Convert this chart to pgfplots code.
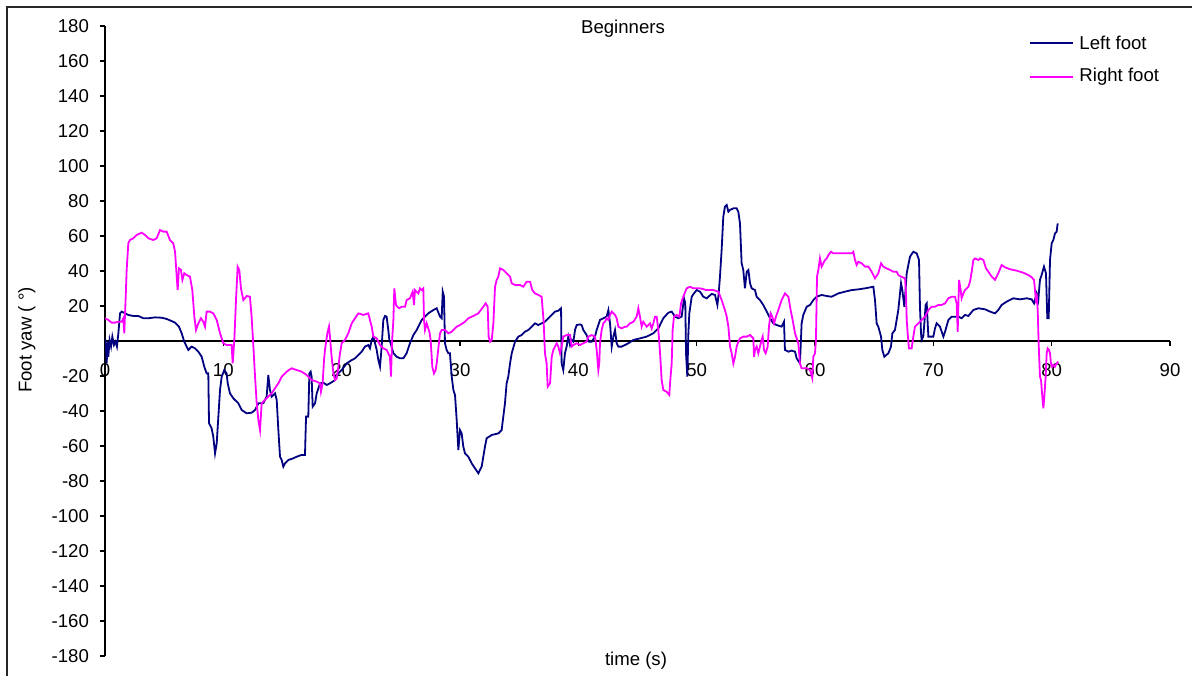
\documentclass[border=0pt]{standalone}
\usepackage{pgfplots}
\pgfplotsset{compat=1.18}
\usepackage{fontspec}
\setmainfont{Liberation Sans}
\definecolor{leftc}{RGB}{0,0,128}
\definecolor{rightc}{RGB}{255,0,255}
\begin{document}
\begin{tikzpicture}[x=1pt,y=1pt]
\useasboundingbox (0,0) rectangle (596,337.5);
\draw[line width=0.9pt, black!85] (3.5,-10) -- (3.5,334) -- (620,334);
\begin{axis}[
  at={(52.5pt,9.5pt)}, anchor=south west,
  scale only axis, width=532.5pt, height=315pt,
  xmin=0, xmax=90, ymin=-180, ymax=180,
  xtick={10,20,...,90}, ytick={-180,-160,...,180},
  extra x ticks={0},
  extra x tick style={tick style={draw=none}},
  axis lines=middle,
  axis line style={-, line width=0.8pt, black},
  tick align=outside, major tick length=2.5pt,
  tick style={black, line width=0.8pt},
  font=\fontsize{9.3pt}{11pt}\selectfont,
  /pgf/number format/assume math mode=true,
  xticklabel style={yshift=-5pt},
  yticklabel style={xshift=-2pt},
  every axis title shift=0pt,
  title={Beginners},
  title style={at={(rel axis cs:0.4864,0.9884)}, anchor=base},
  xlabel={time (s)},
  xlabel style={at={(rel axis cs:0.4986,-0.0143)}, anchor=base},
  ylabel={Foot yaw ( °)},
  ylabel style={at={(rel axis cs:-0.0688,0.5016)}, anchor=base, rotate=90},
]
\addplot[draw=leftc, line width=0.9pt] coordinates {
(0.00,1.5)(0.08,-3.2)(0.14,-12.8)(0.23,-0.4)(0.28,-9)(0.39,0.6)(0.51,-3.2)(0.62,2.5)(0.76,-2.3)(0.90,-0.4)
(1.01,-3.2)(1.13,4.4)(1.27,15.8)(1.41,16.8)(1.69,15.8)(1.97,14.9)(2.39,14.3)(2.82,14.3)(3.24,13.0)(3.66,13.0)
(4.23,13.5)(4.79,13.3)(5.21,12.6)(5.63,11.4)(5.92,10.5)(6.25,8.2)(6.48,4.4)(6.70,-0.4)(6.90,-3.2)(7.04,-5.1)
(7.32,-3.2)(7.61,-4.2)(7.89,-6.1)(8.17,-9.0)(8.39,-14.7)(8.59,-18.5)(8.73,-18.5)(8.79,-47.0)(9.01,-49.9)(9.15,-54.7)
(9.30,-64.2)(9.44,-58.5)(9.58,-43.2)(9.72,-28.0)(9.86,-20.4)(10.08,-16.6)(10.28,-18.5)(10.37,-24.2)(10.56,-29.9)(10.85,-32.8)
(11.27,-35.6)(11.55,-39.4)(11.97,-41.3)(12.39,-41.0)(12.68,-39.4)(12.96,-35.6)(13.38,-35.6)(13.66,-31.8)(13.80,-19.4)(13.94,-28.0)
(14.08,-31.8)(14.37,-29.9)(14.51,-33.7)(14.65,-50.9)(14.79,-66.1)(14.93,-68.0)(15.07,-71.8)(15.21,-69.9)(15.49,-68.0)(15.92,-67.0)
(16.20,-66.1)(16.62,-65.1)(16.90,-65.1)(16.99,-43.2)(17.18,-43.2)(17.27,-18.5)(17.38,-17.5)(17.46,-20.4)(17.55,-37.5)(17.75,-35.6)
(17.89,-29.9)(18.17,-24.2)(18.45,-23.8)(18.73,-25.1)(19.01,-24.2)(19.44,-22.3)(19.58,-19.4)(20.00,-16.6)(20.42,-12.8)(20.85,-10.9)
(21.13,-9.9)(21.41,-8.0)(21.69,-6.1)(21.97,-3.2)(22.25,-2.3)(22.39,-4.2)(22.54,0.6)(22.68,2.5)(22.82,-1.3)(22.96,-5.1)
(23.10,-10.9)(23.24,-14.7)(23.38,-3.2)(23.52,12.0)(23.66,14.3)(23.80,13.9)(23.94,6.3)(24.03,0.6)(24.14,-1.3)(24.37,-7.0)
(24.65,-9.0)(24.93,-9.9)(25.21,-9.9)(25.49,-7.0)(25.77,-1.3)(26.06,3.4)(26.34,6.3)(26.62,10.1)(26.76,12.0)(27.04,13.9)
(27.32,15.8)(27.75,17.7)(28.03,18.7)(28.31,13.9)(28.45,13.0)(28.54,28.2)(28.65,25.3)(28.73,-1.3)(28.87,-5.1)(29.01,-7.0)
(29.15,-7.0)(29.30,-20.4)(29.44,-28.0)(29.58,-30.9)(29.72,-45.1)(29.86,-62.3)(30.00,-50.9)(30.14,-52.8)(30.28,-60.4)(30.42,-64.2)
(30.70,-66.1)(30.99,-69.9)(31.27,-72.8)(31.55,-75.6)(31.83,-71.8)(31.97,-66.1)(32.11,-60.4)(32.25,-55.6)(32.68,-53.7)(33.24,-52.8)
(33.52,-50.9)(33.66,-43.2)(33.80,-35.6)(33.94,-24.2)(34.08,-20.4)(34.23,-12.8)(34.37,-7.0)(34.65,-0.4)(34.93,2.5)(35.21,3.4)
(35.49,5.3)(35.77,6.3)(36.06,8.2)(36.34,10.1)(36.62,9.1)(36.90,10.1)(37.18,11.0)(37.46,13.0)(37.75,14.9)(38.03,16.8)
(38.31,17.3)(38.54,18.7)(38.59,-12.8)(38.73,-16.6)(38.87,-7.0)(39.01,-3.2)(39.15,2.5)(39.30,-2.3)(39.44,0.6)(39.58,-0.4)
(39.72,6.3)(39.86,9.1)(40.14,9.5)(40.28,9.1)(40.42,6.3)(40.70,3.4)(40.90,-0.4)(41.13,-0.4)(41.41,2.5)(41.55,6.3)
(41.83,12.0)(42.11,13.0)(42.39,13.9)(42.54,17.7)(42.68,10.1)(42.82,-3.2)(42.96,2.5)(43.10,6.3)(43.24,-1.3)(43.38,-3.2)
(43.66,-3.2)(43.94,-2.3)(44.23,-1.3)(44.65,0.6)(45.21,1.5)(45.77,2.5)(46.34,4.4)(46.76,7.2)(47.18,13.0)(47.61,16.2)
(47.89,16.8)(48.17,13.9)(48.45,13.0)(48.73,13.9)(48.93,24.4)(49.04,21.5)(49.10,-7.0)(49.21,-20.4)(49.30,4.4)(49.38,15.8)
(49.58,25.3)(49.77,27.2)(50.00,29.1)(50.28,28.2)(50.56,25.3)(50.85,24.4)(50.99,25.3)(51.27,26.9)(51.55,26.3)(51.75,20.6)
(51.86,27.2)(51.97,36.8)(52.11,52.0)(52.25,71.0)(52.39,76.8)(52.54,77.7)(52.68,73.9)(52.82,74.9)(53.10,75.8)(53.38,75.8)
(53.52,73.9)(53.66,67.2)(53.80,44.4)(53.94,40.6)(54.08,30.1)(54.23,39.6)(54.37,40.6)(54.51,33.0)(54.65,30.1)(54.93,29.1)
(55.07,25.3)(55.35,23.4)(55.63,20.6)(55.92,16.8)(56.20,13.0)(56.48,10.1)(56.76,9.1)(57.18,8.2)(57.38,11.0)(57.46,-5.1)
(57.75,-6.1)(58.03,-5.5)(58.31,-6.1)(58.45,-9.9)(58.73,-12.8)(58.87,10.1)(59.01,14.9)(59.30,19.6)(59.58,20.6)(59.86,23.4)
(60.14,25.3)(60.56,26.3)(60.99,25.7)(61.41,25.3)(61.97,27.2)(62.54,28.2)(63.10,29.1)(63.66,29.5)(64.23,30.1)(64.93,31.0)
(65.07,23.4)(65.21,10.1)(65.35,8.2)(65.58,2.5)(65.69,-5.1)(65.86,-9.0)(66.20,-7.0)(66.42,-3.2)(66.54,4.4)(66.76,6.3)
(67.04,17.7)(67.27,33.0)(67.38,29.1)(67.55,19.6)(67.75,38.7)(68.03,48.2)(68.31,51.0)(68.59,50.1)(68.79,46.3)(68.87,19.6)
(68.96,4.4)(69.01,0.6)(69.15,2.5)(69.24,10.1)(69.35,20.6)(69.44,21.5)(69.58,2.5)(70.00,2.5)(70.14,7.2)(70.28,10.1)
(70.56,8.2)(70.85,2.5)(70.99,5.3)(71.27,12.0)(71.55,13.9)(72.11,13.9)(72.39,13.0)(72.68,14.9)(72.96,14.3)(73.38,17.7)
(73.80,18.7)(74.37,18.1)(74.79,16.8)(75.21,15.8)(75.49,17.7)(75.77,20.6)(76.20,22.5)(76.76,24.4)(77.32,23.8)(77.89,24.4)
(78.31,23.8)(78.51,21.5)(78.73,27.2)(78.87,23.4)(79.01,34.9)(79.15,37.7)(79.35,42.5)(79.52,38.7)(79.63,13.0)(79.75,13.0)
(79.86,46.3)(80.00,55.8)(80.14,57.7)(80.28,61.5)(80.42,62.5)(80.51,67.2)
};
\addplot[draw=rightc, line width=0.9pt] coordinates {
(0.00,13.0)(0.28,12.0)(0.56,10.5)(0.85,10.5)(1.13,11.0)(1.41,11.0)(1.55,13.0)(1.63,4.4)(1.75,25.3)(1.83,40.6)
(1.97,55.8)(2.11,57.7)(2.39,58.7)(2.68,60.6)(3.10,61.9)(3.38,60.6)(3.66,58.7)(4.08,57.7)(4.37,58.7)(4.65,63.4)
(4.93,62.5)(5.21,62.5)(5.49,57.7)(5.77,55.8)(5.92,51.0)(6.06,36.8)(6.14,29.1)(6.25,41.5)(6.42,40.6)(6.54,34.9)
(6.70,38.7)(6.90,37.7)(7.18,36.8)(7.38,29.1)(7.55,13.9)(7.69,6.3)(7.89,10.1)(8.11,13.0)(8.31,11.0)(8.45,8.2)
(8.59,16.8)(8.87,16.8)(9.15,15.8)(9.44,12.0)(9.72,4.4)(10.00,-1.3)(10.28,-2.3)(10.70,-2.3)(10.79,-12.8)(10.93,0.6)
(11.07,23.4)(11.21,42.5)(11.35,40.6)(11.49,30.1)(11.69,23.4)(11.97,25.7)(12.25,25.3)(12.39,13.9)(12.54,-3.2)(12.68,-20.4)
(12.82,-35.6)(12.96,-45.1)(13.10,-50.9)(13.24,-35.6)(13.52,-33.7)(13.80,-31.8)(14.08,-29.9)(14.37,-27.0)(14.65,-24.2)(14.93,-20.4)
(15.35,-17.5)(15.77,-15.6)(16.20,-16.6)(16.62,-17.5)(17.04,-19.4)(17.46,-22.3)(17.89,-23.2)(18.17,-24.2)(18.25,-29.0)(18.39,-24.2)
(18.51,-10.9)(18.59,-5.1)(18.79,4.4)(18.93,8.2)(19.01,2.5)(19.15,-9.0)(19.30,-18.5)(19.44,-22.3)(19.58,-21.3)(19.72,-14.7)
(19.86,-7.0)(20.00,-1.3)(20.28,0.6)(20.56,4.4)(20.85,10.1)(21.13,13.0)(21.41,15.8)(21.83,14.9)(22.25,15.8)(22.39,12.0)
(22.54,8.2)(22.68,2.5)(22.96,1.5)(23.24,-2.3)(23.52,-4.2)(23.80,-5.1)(24.08,-9.0)(24.17,-20.4)(24.25,-1.3)(24.37,12.0)
(24.45,30.1)(24.59,20.6)(24.70,19.6)(24.87,18.7)(25.07,19.6)(25.35,19.6)(25.49,23.4)(25.77,24.4)(26.00,28.2)(26.11,20.6)
(26.20,29.1)(26.48,27.2)(26.62,30.1)(26.76,29.1)(26.90,30.1)(26.96,12.0)(27.04,6.3)(27.18,10.1)(27.41,5.3)(27.52,0.6)
(27.66,-14.7)(27.80,-18.5)(27.94,-16.6)(28.03,-12.8)(28.17,-4.2)(28.31,4.4)(28.45,6.3)(28.73,6.3)(29.01,4.4)(29.30,5.3)
(29.72,8.2)(30.00,9.1)(30.42,11.0)(30.70,13.0)(31.13,14.3)(31.55,15.8)(31.97,19.6)(32.17,21.5)(32.34,19.6)(32.42,2.5)
(32.54,-0.4)(32.68,0.6)(32.82,10.1)(32.96,31.0)(33.10,34.9)(33.24,36.8)(33.38,41.5)(33.66,40.6)(33.94,38.7)(34.23,36.8)
(34.37,33.0)(34.65,32.0)(35.07,32.0)(35.35,31.0)(35.63,33.9)(35.92,33.9)(36.11,29.1)(36.34,27.2)(36.62,26.3)(36.90,25.3)
(37.07,11.0)(37.18,-7.0)(37.32,-12.8)(37.41,-26.1)(37.61,-24.2)(37.75,-9.0)(37.89,-5.1)(38.03,-3.2)(38.17,-1.3)(38.31,-3.2)
(38.45,-7.0)(38.59,-3.2)(38.73,2.5)(39.01,3.4)(39.30,3.4)(39.44,-3.2)(39.58,-2.3)(39.86,-1.3)(40.14,-2.3)(40.42,-1.3)
(40.70,-0.4)(40.85,2.5)(41.13,3.4)(41.41,2.5)(41.55,-5.1)(41.69,-16.6)(41.77,-12.8)(41.83,-1.3)(41.97,6.3)(42.11,10.1)
(42.25,11.0)(42.39,13.0)(42.54,12.0)(42.68,14.9)(42.82,16.8)(43.10,14.9)(43.24,13.0)(43.38,8.2)(43.66,7.2)(43.94,8.2)
(44.08,8.2)(44.37,10.1)(44.65,11.0)(44.93,13.9)(45.07,18.7)(45.21,13.9)(45.35,8.2)(45.49,11.0)(45.77,8.2)(46.06,10.1)
(46.20,7.2)(46.34,10.1)(46.48,13.9)(46.62,13.9)(46.76,6.3)(46.85,-1.3)(46.96,-12.8)(47.04,-22.3)(47.18,-28.0)(47.46,-29.0)
(47.69,-30.9)(47.75,-24.2)(47.89,-12.8)(47.97,6.3)(48.08,13.9)(48.31,14.9)(48.54,13.9)(48.68,21.5)(48.87,25.3)(49.15,30.1)
(49.44,31.0)(49.72,30.1)(50.28,30.1)(50.85,29.1)(51.41,29.1)(51.83,28.2)(52.11,23.4)(52.39,17.7)(52.54,13.9)(52.68,8.2)
(52.82,-3.2)(52.96,-7.0)(53.10,-12.8)(53.24,-9.0)(53.38,-3.2)(53.52,-0.4)(53.66,1.5)(53.94,2.5)(54.23,2.5)(54.51,3.4)
(54.79,1.5)(54.85,-9.0)(54.93,-5.1)(55.07,-3.2)(55.21,-7.0)(55.35,-3.2)(55.49,0.6)(55.58,2.5)(55.69,-5.1)(55.83,-7.0)
(56.00,-3.2)(56.11,8.2)(56.25,15.8)(56.39,13.9)(56.54,10.1)(56.70,13.9)(56.90,17.7)(57.18,23.4)(57.46,27.2)(57.75,25.3)
(57.94,17.7)(58.11,12.0)(58.31,4.4)(58.59,-1.3)(58.73,-12.8)(58.87,-15.6)(59.15,-15.6)(59.30,-15.6)(59.58,-16.6)(59.77,-21.3)
(59.86,-9.0)(60.00,-7.0)(60.08,0.6)(60.17,36.8)(60.28,40.6)(60.42,47.2)(60.56,42.5)(60.70,44.4)(60.85,46.3)(60.99,47.2)
(61.13,49.1)(61.35,51.0)(61.55,50.1)(61.83,50.1)(62.25,50.1)(62.68,50.1)(63.10,50.1)(63.24,51.0)(63.38,46.3)(63.52,43.4)
(63.66,45.3)(63.94,44.4)(64.23,42.5)(64.51,42.5)(64.79,39.6)(65.07,35.8)(65.35,38.7)(65.58,44.4)(65.77,42.5)(66.06,41.5)
(66.34,40.6)(66.62,39.6)(66.90,39.6)(67.04,37.7)(67.27,36.8)(67.61,35.8)(67.69,27.2)(67.75,12.0)(67.83,4.4)(67.94,-4.2)
(68.17,-4.2)(68.31,2.5)(68.45,8.2)(68.73,10.1)(69.01,12.0)(69.30,13.9)(69.44,15.8)(69.58,17.7)(69.86,19.6)(70.14,19.6)
(70.42,20.6)(70.70,20.6)(70.99,21.5)(71.27,24.4)(71.55,25.3)(71.83,25.3)(71.97,21.5)(72.06,5.3)(72.17,34.9)(72.31,29.1)
(72.39,24.4)(72.54,27.2)(72.68,29.1)(72.96,31.0)(73.10,33.9)(73.24,39.6)(73.38,46.3)(73.52,47.2)(73.80,46.3)(73.94,47.2)
(74.23,46.3)(74.45,41.5)(74.65,39.6)(74.93,36.8)(75.21,34.9)(75.49,38.7)(75.77,43.4)(76.06,42.1)(76.48,41.0)(77.04,40.2)
(77.61,39.0)(78.03,37.7)(78.31,36.4)(78.51,34.9)(78.59,29.1)(78.68,21.5)(78.73,27.2)(78.82,17.7)(78.90,-1.3)(79.01,-20.4)
(79.10,-22.3)(79.21,-31.8)(79.30,-38.5)(79.38,-31.8)(79.49,-20.4)(79.58,-7.0)(79.66,-4.2)(79.77,-5.1)(79.86,-7.0)(79.94,-12.8)
(80.03,-14.7)(80.14,-13.7)(80.28,-14.7)(80.42,-12.8)(80.56,-11.8)
};
% legend (decoration)
\draw[leftc, line width=0.9pt] (rel axis cs:0.8685,0.9730) -- (rel axis cs:0.9089,0.9730);
\node[anchor=west, inner sep=0pt, font=\fontsize{9.3pt}{11pt}\selectfont] at (rel axis cs:0.9146,0.9730) {Left foot};
\draw[rightc, line width=0.9pt] (rel axis cs:0.8685,0.9190) -- (rel axis cs:0.9089,0.9190);
\node[anchor=west, inner sep=0pt, font=\fontsize{9.3pt}{11pt}\selectfont] at (rel axis cs:0.9146,0.9190) {Right foot};
\end{axis}
\end{tikzpicture}
\end{document}
